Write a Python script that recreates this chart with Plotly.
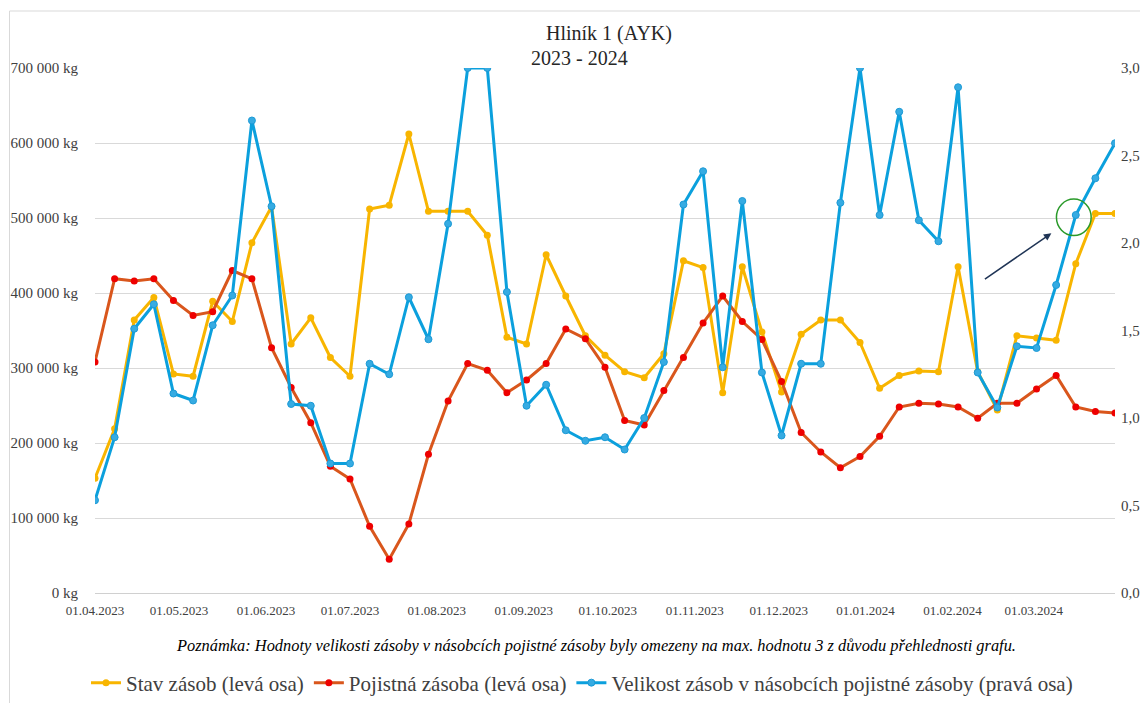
import pandas as pd
import plotly.graph_objects as go

# Weekly observation dates
dates = pd.date_range("2023-04-01", periods=53, freq="7D")

# Stock level (kg, left axis)
stav_zasob = [
    153000, 219000, 364000, 394000, 292000, 289000, 389000, 362000, 467000, 515000,
    332000, 367000, 314000, 289000, 512000, 517000, 612000, 509000, 509000, 509000,
    477000, 341000, 332000, 451000, 396000, 343000, 317000, 295000, 287000, 319000,
    443000, 434000, 267000, 435000, 348000, 268000, 345000, 364000, 364000, 334000,
    273000, 290000, 296000, 295000, 435000, 295000, 244000, 343000, 340000, 337000,
    439000, 506000, 506000,
]

# Safety stock (kg, left axis)
pojistna_zasoba = [
    308000, 419000, 416000, 419000, 390000, 370000, 375000, 430000, 419000, 327000,
    274000, 227000, 169000, 152000, 89000, 45000, 92000, 185000, 256000, 306000,
    297000, 267000, 284000, 306000, 352000, 339000, 301000, 230000, 224000, 270000,
    314000, 360000, 396000, 362000, 338000, 282000, 214000, 188000, 167000, 182000,
    209000, 248000, 253000, 252000, 248000, 233000, 253000, 253000, 272000, 290000,
    248000, 242000, 240000,
]

# Stock expressed as multiples of safety stock (right axis, capped at 3)
nasobky = [
    0.53, 0.89, 1.51, 1.65, 1.14, 1.10, 1.53, 1.70, 2.70, 2.21,
    1.08, 1.07, 0.74, 0.74, 1.31, 1.25, 1.69, 1.45, 2.11, 3.00,
    3.00, 1.72, 1.07, 1.19, 0.93, 0.87, 0.89, 0.82, 1.00, 1.32,
    2.22, 2.41, 1.29, 2.24, 1.26, 0.90, 1.31, 1.31, 2.23, 3.00,
    2.16, 2.75, 2.13, 2.01, 2.89, 1.26, 1.06, 1.41, 1.40, 1.76,
    2.16, 2.37, 2.57,
]

left_ticks = [0, 100000, 200000, 300000, 400000, 500000, 600000, 700000]
left_labels = ["0 kg", "100 000 kg", "200 000 kg", "300 000 kg", "400 000 kg",
               "500 000 kg", "600 000 kg", "700 000 kg"]
right_ticks = [0, 0.5, 1.0, 1.5, 2.0, 2.5, 3.0]
right_labels = ["0,0", "0,5", "1,0", "1,5", "2,0", "2,5", "3,0"]
month_ticks = pd.date_range("2023-04-01", "2024-03-01", freq="MS")
month_labels = [d.strftime("%d.%m.%Y") for d in month_ticks]

W, H = 1140, 703
L, R, T, B = 95, 25, 68, 110
PW, PH = W - L - R, H - T - B


def px(xp):
    return (xp - L) / PW


def py(yp):
    return (H - B - yp) / PH


SERIF = "Liberation Serif"
YELLOW = "#F8B500"
RED_LINE = "#D9561C"
RED_MARK = "#EE0000"
BLUE = "#0BA0DD"

fig = go.Figure()
fig.add_trace(go.Scatter(
    x=dates, y=stav_zasob, name="Stav zásob (levá osa)", mode="lines+markers",
    line=dict(color=YELLOW, width=3), marker=dict(color=YELLOW, size=7),
))
fig.add_trace(go.Scatter(
    x=dates, y=pojistna_zasoba, name="Pojistná zásoba (levá osa)", mode="lines+markers",
    line=dict(color=RED_LINE, width=3), marker=dict(color=RED_MARK, size=7),
))
fig.add_trace(go.Scatter(
    x=dates, y=nasobky, name="Velikost zásob v násobcích pojistné zásoby (pravá osa)",
    mode="lines+markers", yaxis="y2",
    line=dict(color=BLUE, width=3),
    marker=dict(color="#36ABE2", size=7, line=dict(color="#1C9AD6", width=1)),
))

fig.update_layout(
    width=W, height=H,
    margin=dict(l=L, r=R, t=T, b=B, autoexpand=False),
    paper_bgcolor="white", plot_bgcolor="white",
    font=dict(family=SERIF, color="#404040"),
    showlegend=True,
    legend=dict(orientation="h", x=px(582), xanchor="center", y=py(683), yanchor="middle",
                font=dict(size=21, family=SERIF, color="#404040"),
                itemwidth=30, tracegroupgap=0, bgcolor="rgba(0,0,0,0)"),
    xaxis=dict(
        type="date", range=[dates[0], dates[-1]], automargin=False,
        tickvals=month_ticks, ticktext=month_labels,
        tickfont=dict(size=13, family=SERIF, color="#404040"),
        ticks="outside", ticklen=5, tickcolor="rgba(0,0,0,0)",
        showgrid=False, showline=True, linecolor="#D0D0D0", linewidth=1,
        zeroline=False,
    ),
    yaxis=dict(
        range=[0, 700000], tickvals=left_ticks, ticktext=left_labels, automargin=False,
        tickfont=dict(size=15, family=SERIF, color="#404040"),
        ticks="outside", ticklen=13, tickcolor="rgba(0,0,0,0)",
        showgrid=True, gridcolor="#D9D9D9", gridwidth=1,
        zeroline=False, showline=False,
    ),
    yaxis2=dict(
        range=[0, 3], overlaying="y", side="right", automargin=False,
        tickvals=right_ticks, ticktext=right_labels,
        tickfont=dict(size=15, family=SERIF, color="#404040"),
        ticks="outside", ticklen=2, tickcolor="rgba(0,0,0,0)",
        showgrid=False, zeroline=False, showline=False,
    ),
)

# Chart titles and footnote
fig.add_annotation(text="Hliník 1 (AYK)", xref="paper", yref="paper",
                   x=px(609), y=py(33), xanchor="center", yanchor="middle", showarrow=False,
                   font=dict(size=20, family=SERIF, color="#262626"))
fig.add_annotation(text="2023 - 2024", xref="paper", yref="paper",
                   x=px(579), y=py(58), xanchor="center", yanchor="middle", showarrow=False,
                   font=dict(size=20, family=SERIF, color="#262626"))
fig.add_annotation(
    text="<i>Poznámka: Hodnoty velikosti zásoby v násobcích pojistné zásoby byly omezeny "
         "na max. hodnotu 3 z důvodu přehlednosti grafu.</i>",
    xref="paper", yref="paper", x=px(596), y=py(645), xanchor="center", yanchor="middle",
    showarrow=False, font=dict(size=16.4, family=SERIF, color="#000000"))

# Highlight of the latest trend: circle around a point and an arrow pointing to it
t0 = dates[0]
c_day = 349.3
r_day = 6.2
fig.add_shape(type="circle", xref="x", yref="y2",
              x0=t0 + pd.Timedelta(days=c_day - r_day), x1=t0 + pd.Timedelta(days=c_day + r_day),
              y0=2.147 - 0.104, y1=2.147 + 0.104,
              line=dict(color="#2A9A2A", width=1.5))
fig.add_annotation(xref="x", yref="y2", x=t0 + pd.Timedelta(days=341.3), y=2.056,
                   ax=-68, ay=47, axref="pixel", ayref="pixel",
                   showarrow=True, arrowhead=2, arrowsize=1, arrowwidth=1.5,
                   arrowcolor="#1F3455", text="")

# Outer chart frame
fig.add_shape(type="rect", xref="paper", yref="paper",
              x0=px(9.5), x1=px(1160), y0=py(11), y1=py(720),
              line=dict(color="#D9D9D9", width=1), layer="below")

fig.write_html("out.html")
